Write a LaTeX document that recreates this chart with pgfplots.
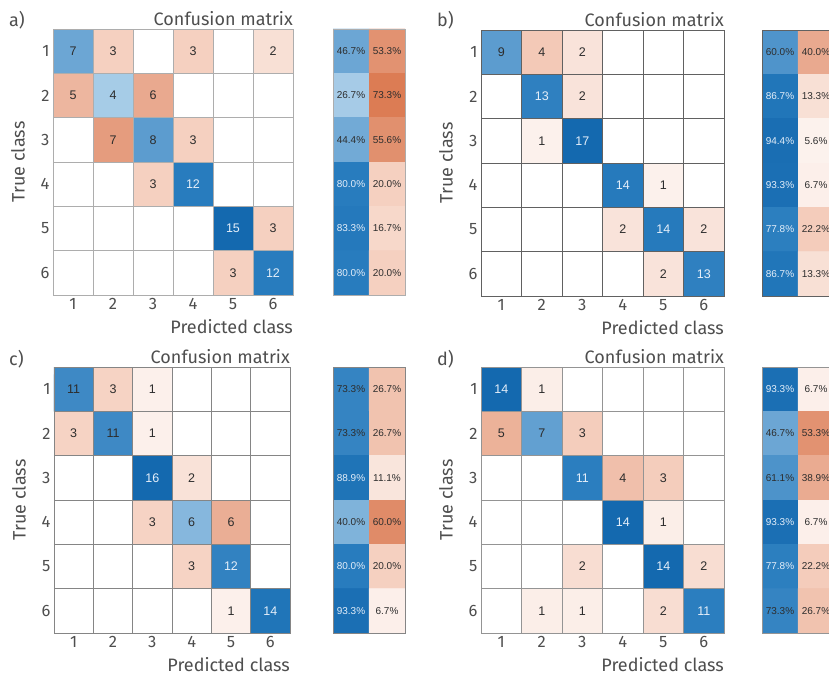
\documentclass[border=0pt]{standalone}
\usepackage{pgfplots}
\pgfplotsset{compat=1.18}
\usepackage{pgfplotstable}
\usepackage{fontspec}
\setmainfont{Fira Sans}
\newfontfamily\cellfont{Liberation Sans}

\definecolor{labelgray}{RGB}{78,78,78}
\definecolor{celltext}{RGB}{45,45,45}
\definecolor{celllight}{RGB}{228,238,249}

% Confusion matrices: x = predicted class, y = true class, n = count
\pgfplotstableread[row sep=\\]{
x y n\\
1 1 7\\ 2 1 3\\ 3 1 0\\ 4 1 3\\ 5 1 0\\ 6 1 2\\
1 2 5\\ 2 2 4\\ 3 2 6\\ 4 2 0\\ 5 2 0\\ 6 2 0\\
1 3 0\\ 2 3 7\\ 3 3 8\\ 4 3 3\\ 5 3 0\\ 6 3 0\\
1 4 0\\ 2 4 0\\ 3 4 3\\ 4 4 12\\ 5 4 0\\ 6 4 0\\
1 5 0\\ 2 5 0\\ 3 5 0\\ 4 5 0\\ 5 5 15\\ 6 5 3\\
1 6 0\\ 2 6 0\\ 3 6 0\\ 4 6 0\\ 5 6 3\\ 6 6 12\\
}\cmA
\pgfplotstableread[row sep=\\]{
x y n\\
1 1 9\\ 2 1 4\\ 3 1 2\\ 4 1 0\\ 5 1 0\\ 6 1 0\\
1 2 0\\ 2 2 13\\ 3 2 2\\ 4 2 0\\ 5 2 0\\ 6 2 0\\
1 3 0\\ 2 3 1\\ 3 3 17\\ 4 3 0\\ 5 3 0\\ 6 3 0\\
1 4 0\\ 2 4 0\\ 3 4 0\\ 4 4 14\\ 5 4 1\\ 6 4 0\\
1 5 0\\ 2 5 0\\ 3 5 0\\ 4 5 2\\ 5 5 14\\ 6 5 2\\
1 6 0\\ 2 6 0\\ 3 6 0\\ 4 6 0\\ 5 6 2\\ 6 6 13\\
}\cmB
\pgfplotstableread[row sep=\\]{
x y n\\
1 1 11\\ 2 1 3\\ 3 1 1\\ 4 1 0\\ 5 1 0\\ 6 1 0\\
1 2 3\\ 2 2 11\\ 3 2 1\\ 4 2 0\\ 5 2 0\\ 6 2 0\\
1 3 0\\ 2 3 0\\ 3 3 16\\ 4 3 2\\ 5 3 0\\ 6 3 0\\
1 4 0\\ 2 4 0\\ 3 4 3\\ 4 4 6\\ 5 4 6\\ 6 4 0\\
1 5 0\\ 2 5 0\\ 3 5 0\\ 4 5 3\\ 5 5 12\\ 6 5 0\\
1 6 0\\ 2 6 0\\ 3 6 0\\ 4 6 0\\ 5 6 1\\ 6 6 14\\
}\cmC
\pgfplotstableread[row sep=\\]{
x y n\\
1 1 14\\ 2 1 1\\ 3 1 0\\ 4 1 0\\ 5 1 0\\ 6 1 0\\
1 2 5\\ 2 2 7\\ 3 2 3\\ 4 2 0\\ 5 2 0\\ 6 2 0\\
1 3 0\\ 2 3 0\\ 3 3 11\\ 4 3 4\\ 5 3 3\\ 6 3 0\\
1 4 0\\ 2 4 0\\ 3 4 0\\ 4 4 14\\ 5 4 1\\ 6 4 0\\
1 5 0\\ 2 5 0\\ 3 5 2\\ 4 5 0\\ 5 5 14\\ 6 5 2\\
1 6 0\\ 2 6 1\\ 3 6 1\\ 4 6 0\\ 5 6 2\\ 6 6 11\\
}\cmD

% Row summaries: x = 1 correct share, x = 2 error share (percent)
\pgfplotstableread[row sep=\\]{
x y p\\
1 1 46.7\\ 2 1 53.3\\ 1 2 26.7\\ 2 2 73.3\\ 1 3 44.4\\ 2 3 55.6\\
1 4 80.0\\ 2 4 20.0\\ 1 5 83.3\\ 2 5 16.7\\ 1 6 80.0\\ 2 6 20.0\\
}\smA
\pgfplotstableread[row sep=\\]{
x y p\\
1 1 60.0\\ 2 1 40.0\\ 1 2 86.7\\ 2 2 13.3\\ 1 3 94.4\\ 2 3 5.6\\
1 4 93.3\\ 2 4 6.7\\ 1 5 77.8\\ 2 5 22.2\\ 1 6 86.7\\ 2 6 13.3\\
}\smB
\pgfplotstableread[row sep=\\]{
x y p\\
1 1 73.3\\ 2 1 26.7\\ 1 2 73.3\\ 2 2 26.7\\ 1 3 88.9\\ 2 3 11.1\\
1 4 40.0\\ 2 4 60.0\\ 1 5 80.0\\ 2 5 20.0\\ 1 6 93.3\\ 2 6 6.7\\
}\smC
\pgfplotstableread[row sep=\\]{
x y p\\
1 1 93.3\\ 2 1 6.7\\ 1 2 46.7\\ 2 2 53.3\\ 1 3 61.1\\ 2 3 38.9\\
1 4 93.3\\ 2 4 6.7\\ 1 5 77.8\\ 2 5 22.2\\ 1 6 73.3\\ 2 6 26.7\\
}\smD

% orange (errors, negative meta) - white - blue (correct, positive meta)
\pgfplotsset{
  colormap={cmdiv}{
    rgb255(0pt)=(205,88,42); rgb255(25pt)=(219,122,82); rgb255(50pt)=(227,150,118);
    rgb255(80pt)=(245,208,192); rgb255(100pt)=(255,255,255); rgb255(120pt)=(185,216,237);
    rgb255(150pt)=(98,160,209); rgb255(180pt)=(40,124,190); rgb255(200pt)=(20,105,175)},
  cell grid/.style={
    axis on top, major tick length=0pt, minor tick length=0pt,
    xminorgrids, yminorgrids,
    minor grid style={draw=#1, line width=0.9pt},
    axis line style={draw=#1, line width=0.9pt},
  },
  cm matrix/.style={
    scale only axis, height=266pt,
    xmin=0.5, xmax=6.5, ymin=0.5, ymax=6.5, y dir=reverse,
    xtick={1,...,6}, ytick={1,...,6},
    minor xtick={1.5,2.5,3.5,4.5,5.5}, minor ytick={1.5,2.5,3.5,4.5,5.5},
    /pgf/number format/assume math mode=true,
    tick label style={font=\fontsize{16.5}{18}\selectfont, text=labelgray},
    title={Confusion matrix},
    title style={at={(1,1)}, anchor=south east, inner sep=0pt, yshift=-3pt,
      font=\fontsize{18}{20}\selectfont, text=labelgray},
    xlabel={Predicted class}, ylabel={True class},
    xlabel style={at={(ticklabel cs:1)}, anchor=north east, inner sep=0pt, yshift=-6pt,
      font=\fontsize{18}{20}\selectfont, text=labelgray},
    ylabel shift=9pt,
    ylabel style={font=\fontsize{18}{20}\selectfont, text=labelgray},
  },
  cm summary/.style={
    scale only axis, width=72pt, height=266pt,
    xmin=0.5, xmax=2.5, ymin=0.5, ymax=6.5, y dir=reverse,
    xtick=\empty, ytick=\empty,
    minor xtick={1.5}, minor ytick={1.5,2.5,3.5,4.5,5.5},
    point meta min=-100, point meta max=100,
  },
  count label/.style={only marks, mark=none, point meta=explicit,
    nodes near coords={\pgfmathprintnumber[assume math mode=true]{\pgfplotspointmeta}},
    every node near coord/.style={anchor=center, inner sep=0pt,
      font=\cellfont\fontsize{12.5}{14}\selectfont, text=#1}},
  pct label/.style={only marks, mark=none, point meta=explicit,
    nodes near coords={\pgfmathprintnumber[assume math mode=true,fixed,fixed zerofill,precision=1]{\pgfplotspointmeta}\%},
    every node near coord/.style={anchor=center, inner sep=0pt,
      font=\cellfont\fontsize{10}{12}\selectfont, text=#1}},
}

% #1,#2: top left of the matrix; #3: matrix width; #4: counts; #5: largest count;
% #6: left edge of the summary; #7: summary table; #8: line colour
\newcommand\cmpanel[8]{%
  \begin{axis}[cm matrix, cell grid=#8, at={(#1pt,#2pt)}, anchor=north west, width=#3pt,
      point meta min=-#5, point meta max=#5]
    \addplot[matrix plot*, mesh/cols=6, point meta=explicit]
      table[x=x, y=y, meta expr={\thisrow{x}==\thisrow{y} ? \thisrow{n} : -\thisrow{n}}] {#4};
    \addplot[count label=celltext]
      table[x expr={(\thisrow{n}>0 && \thisrow{n}<0.745*#5) ? \thisrow{x} : nan},
            y=y, meta=n] {#4};
    \addplot[count label=celllight]
      table[x expr={(\thisrow{n}>=0.745*#5) ? \thisrow{x} : nan},
            y=y, meta=n] {#4};
  \end{axis}
  \begin{axis}[cm summary, cell grid=#8, at={(#6pt,#2pt)}, anchor=north west]
    \addplot[matrix plot*, mesh/cols=2, point meta=explicit]
      table[x=x, y=y, meta expr={\thisrow{x}==1 ? \thisrow{p} : -\thisrow{p}}] {#7};
    \addplot[pct label=celltext]
      table[x expr={(\thisrow{x}==2 || \thisrow{p}<75) ? \thisrow{x} : nan},
            y=y, meta=p] {#7};
    \addplot[pct label=celllight]
      table[x expr={(\thisrow{x}==1 && \thisrow{p}>=75) ? \thisrow{x} : nan},
            y=y, meta=p] {#7};
  \end{axis}
}

\begin{document}
\begin{tikzpicture}
  \path[use as bounding box] (0pt,0pt) rectangle (829pt,-676pt);
  \clip (0pt,0pt) rectangle (829pt,-676pt);

  \cmpanel{53}{-29}{240}{\cmA}{15}{333}{\smA}{black!32}
  \cmpanel{481}{-30}{243}{\cmB}{17}{762}{\smB}{black!62}
  \cmpanel{54}{-367}{236}{\cmC}{16}{333}{\smC}{black!48}
  \cmpanel{481}{-367}{243}{\cmD}{14}{762}{\smD}{black!42}

  \begin{scope}[every node/.style={anchor=west, inner sep=0pt, text=labelgray,
      font=\fontsize{18}{20}\selectfont}]
    \node at (9pt,-20pt) {a)};
    \node at (437pt,-20pt) {b)};
    \node at (9pt,-359pt) {c)};
    \node at (437pt,-359pt) {d)};
  \end{scope}
\end{tikzpicture}
\end{document}
